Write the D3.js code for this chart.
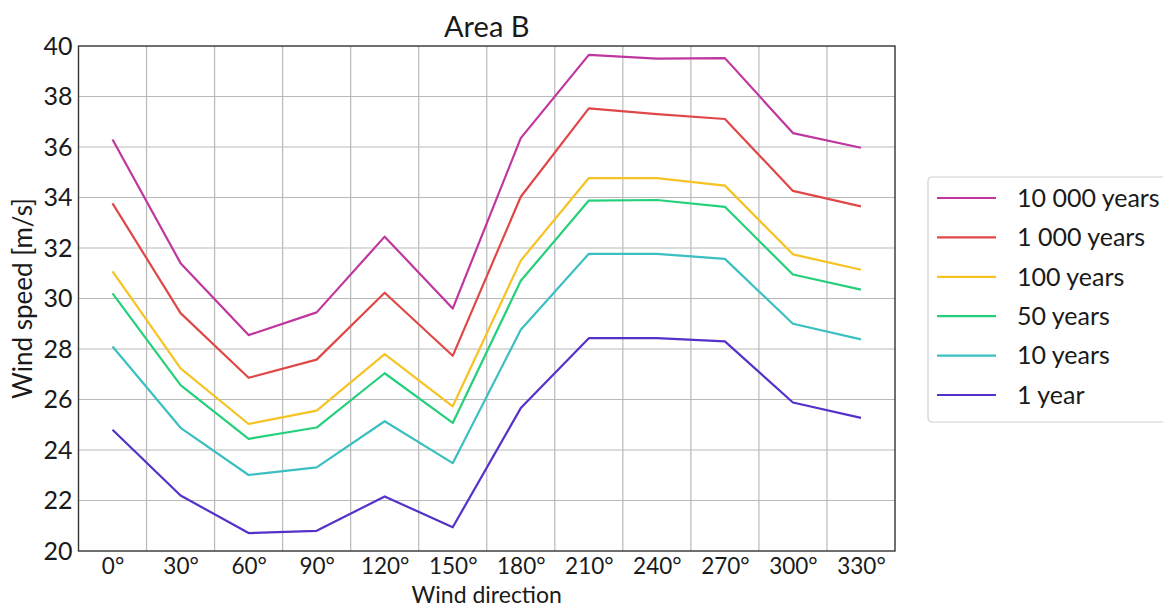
<!DOCTYPE html>
<html>
<head>
<meta charset="utf-8">
<script src="https://cdn.jsdelivr.net/npm/d3@7"></script>
<style>
  body { margin: 0; background: #fff; }
  text { font-family: Lato, 'Open Sans', sans-serif; fill: #1a1a1a; }
</style>
</head>
<body>
<div id="chart"></div>
<script>
// Wind directions (degrees) on the x-axis.
var directions = [0, 30, 60, 90, 120, 150, 180, 210, 240, 270, 300, 330];

// Return-period series, in legend order.
var seriesNames = ['10 000 years', '1 000 years', '100 years', '50 years', '10 years', '1 year'];
var seriesColors = ['#c0369f', '#e04848', '#f6c323', '#25d07a', '#3bbfc1', '#5530c9'];

var years10000 = [36.3, 31.4, 28.55, 29.45, 32.45, 29.6, 36.35, 39.65, 39.5, 39.52, 36.55, 35.97];
var years1000  = [33.77, 29.42, 26.86, 27.58, 30.23, 27.73, 34.03, 37.53, 37.3, 37.11, 34.26, 33.65];
var years100   = [31.07, 27.23, 25.03, 25.56, 27.8, 25.73, 31.5, 34.77, 34.77, 34.47, 31.75, 31.14];
var years50    = [30.2, 26.57, 24.44, 24.89, 27.04, 25.07, 30.7, 33.88, 33.9, 33.63, 30.95, 30.35];
var years10    = [28.1, 24.88, 23.01, 23.31, 25.14, 23.48, 28.76, 31.77, 31.77, 31.57, 29.0, 28.38];
var years1     = [24.8, 22.2, 20.71, 20.8, 22.16, 20.94, 25.66, 28.43, 28.43, 28.3, 25.88, 25.27];

var seriesValues = [years10000, years1000, years100, years50, years10, years1];

// Y-axis tick values.
var yTicks = [20, 22, 24, 26, 28, 30, 32, 34, 36, 38, 40];

// Set the margins of the plot area.
var margin = {left: 78.5, right: 268, top: 46, bottom: 57};
var width = 1163 - margin.left - margin.right,
    height = 608 - margin.top - margin.bottom;

var svg = d3.select('#chart')
    .append('svg')
        .attr('width', 1163)
        .attr('height', 608)
    .append('g')
        .attr('transform', 'translate(' + margin.left + ', ' + margin.top + ')');

// Directions are placed by index, half a step of padding at each end.
var x = d3.scaleLinear()
    .domain([-0.5, directions.length - 0.5])
    .range([0, width]);

var y = d3.scaleLinear()
    .domain([20, 40])
    .range([height, 0]);

// Vertical grid lines fall between the directions.
var xGrid = d3.range(0.5, directions.length - 1, 1);
svg.append('g')
    .attr('class', 'x-grid')
    .selectAll('line')
    .data(xGrid)
    .enter().append('line')
        .attr('x1', function(d){ return x(d); })
        .attr('x2', function(d){ return x(d); })
        .attr('y1', 0)
        .attr('y2', height)
        .attr('stroke', '#b9b9b9')
        .attr('stroke-width', 1.2);

// Horizontal grid lines.
svg.append('g')
    .attr('class', 'y-grid')
    .selectAll('line')
    .data(yTicks.slice(1, -1))
    .enter().append('line')
        .attr('x1', 0)
        .attr('x2', width)
        .attr('y1', function(d){ return y(d); })
        .attr('y2', function(d){ return y(d); })
        .attr('stroke', '#b9b9b9')
        .attr('stroke-width', 1.2);

// Taking care of the x-axis. Text is hung from its top so the label below fits.
var xAxisCall = d3.axisBottom(x)
    .tickValues(d3.range(directions.length))
    .tickSize(0)
    .tickPadding(1)
    .tickFormat(function(d){ return directions[d] + '°'; });

svg.append('g')
    .attr('class', 'x-axis')
    .attr('transform', 'translate(0, ' + height + ')')
    .call(xAxisCall)
    .call(function(g){ g.select('.domain').remove(); })
    .selectAll('text')
        .attr('dy', null)
        .attr('dominant-baseline', 'text-before-edge')
        .style('font-size', '22.5px')
        .attr('fill', '#1a1a1a');

// Taking care of the y-axis.
var yAxisCall = d3.axisLeft(y)
    .tickValues(yTicks)
    .tickSize(0)
    .tickPadding(6);

svg.append('g')
    .attr('class', 'y-axis')
    .call(yAxisCall)
    .call(function(g){ g.select('.domain').remove(); })
    .selectAll('text')
        .style('font-size', '25px')
        .attr('fill', '#1a1a1a');

// The lines, one per return period.
var line = d3.line()
    .x(function(d, i){ return x(i); })
    .y(function(d){ return y(d); });

svg.selectAll('.series')
    .data(seriesValues)
    .enter().append('path')
        .attr('class', 'series')
        .attr('d', line)
        .attr('fill', 'none')
        .attr('stroke', function(d, i){ return seriesColors[i]; })
        .attr('stroke-width', 2.2)
        .attr('stroke-linejoin', 'round');

// Frame around the plot area.
svg.append('rect')
    .attr('width', width)
    .attr('height', height)
    .attr('fill', 'none')
    .attr('stroke', '#333')
    .attr('stroke-width', 1.4);

// Title.
svg.append('text')
    .attr('x', width / 2)
    .attr('y', -9)
    .attr('text-anchor', 'middle')
    .style('font-size', '29px')
    .text('Area B');

// X-axis label.
svg.append('text')
    .attr('x', width / 2)
    .attr('y', height + 51.5)
    .attr('text-anchor', 'middle')
    .style('font-size', '23px')
    .text('Wind direction');

// Y-axis label.
svg.append('text')
    .attr('x', -(height / 2))
    .attr('y', -47)
    .attr('text-anchor', 'middle')
    .attr('transform', 'rotate(-90)')
    .style('font-size', '26px')
    .text('Wind speed [m/s]');

// Legend to the right of the plot.
var legend = svg.append('g')
    .attr('class', 'legend')
    .attr('transform', 'translate(' + (width + 33) + ', 131)');

legend.append('rect')
    .attr('width', 250)
    .attr('height', 245)
    .attr('rx', 4)
    .attr('fill', '#fff')
    .attr('stroke', '#d0d0d0')
    .attr('stroke-width', 1.2);

var rows = legend.selectAll('.row')
    .data(seriesNames)
    .enter().append('g')
        .attr('class', 'row')
        .attr('transform', function(d, i){ return 'translate(0, ' + (21 + i * 39.4) + ')'; });

rows.append('line')
    .attr('x1', 9)
    .attr('x2', 68)
    .attr('stroke', function(d, i){ return seriesColors[i]; })
    .attr('stroke-width', 2.2);

rows.append('text')
    .attr('x', 89)
    .attr('dy', '0.35em')
    .style('font-size', '25px')
    .text(function(d){ return d; });
</script>
</body>
</html>
